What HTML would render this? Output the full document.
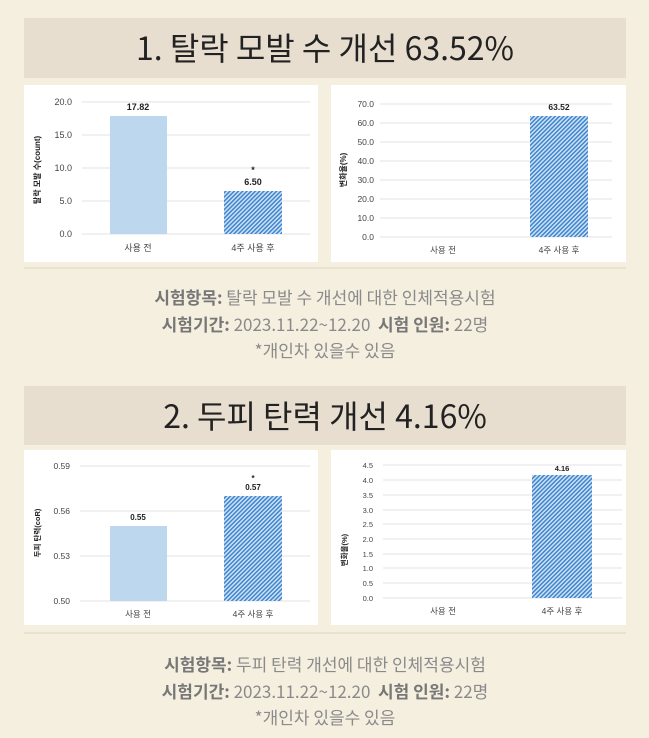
<!DOCTYPE html>
<html><head><meta charset="utf-8"><style>
body{margin:0;background:#f5efe0;}
svg{display:block}
</style></head><body>
<svg width="649" height="738" viewBox="0 0 649 738" xmlns="http://www.w3.org/2000/svg" font-family="'Liberation Sans','Noto Sans CJK KR',sans-serif">
<defs>
<pattern id="h" width="3" height="3" patternUnits="userSpaceOnUse" patternTransform="rotate(45)">
<rect width="3" height="3" fill="#d8e8f6"/><rect width="1.6" height="3" fill="#3f86cf"/>
</pattern>
</defs>
<rect width="649" height="738" fill="#f5efe0"/>
<rect x="24" y="18" width="602" height="60" fill="#e8ded0"/>
<text x="325" y="60" font-size="32" text-anchor="middle" fill="#222" font-family="'Noto Sans CJK KR',sans-serif">1. 탈락 모발 수 개선 63.52%</text>
<rect x="24" y="85" width="294" height="177" fill="#fff"/>
<g stroke="#e3e3e3" stroke-width="1">
<line x1="82" y1="102" x2="310" y2="102"/><line x1="82" y1="135" x2="310" y2="135"/><line x1="82" y1="168" x2="310" y2="168"/><line x1="82" y1="201" x2="310" y2="201"/><line x1="82" y1="234" x2="310" y2="234"/>
</g>
<g font-size="9" fill="#444" text-anchor="end">
<text x="72" y="105">20.0</text><text x="72" y="138">15.0</text><text x="72" y="171">10.0</text><text x="72" y="204">5.0</text><text x="72" y="237">0.0</text>
</g>
<rect x="110" y="116" width="57" height="118" fill="#bdd7ee"/>
<rect x="224" y="191" width="58" height="43" fill="url(#h)"/>
<g font-size="9" fill="#222" font-weight="bold" text-anchor="middle">
<text x="138" y="110">17.82</text><text x="253" y="185">6.50</text><text x="253" y="173">*</text>
</g>
<g font-size="9" fill="#444" text-anchor="middle">
<text x="138" y="251">사용 전</text><text x="253" y="251">4주 사용 후</text>
</g>
<text transform="translate(40,170) rotate(-90)" font-size="8" font-weight="bold" fill="#222" text-anchor="middle">탈락 모발 수(count)</text>
<rect x="331" y="85" width="295" height="177" fill="#fff"/>
<g stroke="#e3e3e3">
<line x1="380" y1="104" x2="612" y2="104"/><line x1="380" y1="123" x2="612" y2="123"/><line x1="380" y1="142" x2="612" y2="142"/><line x1="380" y1="161" x2="612" y2="161"/><line x1="380" y1="180" x2="612" y2="180"/><line x1="380" y1="199" x2="612" y2="199"/><line x1="380" y1="218" x2="612" y2="218"/><line x1="380" y1="237" x2="612" y2="237"/>
</g>
<g font-size="8.5" fill="#444" text-anchor="end">
<text x="374" y="107">70.0</text><text x="374" y="126">60.0</text><text x="374" y="145">50.0</text><text x="374" y="164">40.0</text><text x="374" y="183">30.0</text><text x="374" y="202">20.0</text><text x="374" y="221">10.0</text><text x="374" y="240">0.0</text>
</g>
<rect x="530" y="116" width="58" height="121" fill="url(#h)"/>
<text x="559" y="110" font-size="8.5" font-weight="bold" fill="#222" text-anchor="middle">63.52</text>
<g font-size="8.5" fill="#444" text-anchor="middle">
<text x="443" y="253">사용 전</text><text x="559" y="253">4주 사용 후</text>
</g>
<text transform="translate(346,170) rotate(-90)" font-size="8" font-weight="bold" fill="#222" text-anchor="middle">변화율(%)</text>
<line x1="24" y1="268" x2="626" y2="268" stroke="#ddd5c5"/>
<g font-size="17" fill="#8a8a8a" text-anchor="middle" font-family="'Noto Sans CJK KR',sans-serif">
<text x="325" y="304"><tspan font-weight="bold" fill="#777">시험항목:</tspan> 탈락 모발 수 개선에 대한 인체적용시험</text>
<text x="325" y="331"><tspan font-weight="bold" fill="#777">시험기간:</tspan> 2023.11.22~12.20&#160;&#160;<tspan font-weight="bold" fill="#777">시험 인원:</tspan> 22명</text>
<text x="325" y="357">*개인차 있을수 있음</text>
</g>
<rect x="24" y="386" width="602" height="59" fill="#e8ded0"/>
<text x="325" y="428" font-size="32" text-anchor="middle" fill="#222" font-family="'Noto Sans CJK KR',sans-serif">2. 두피 탄력 개선 4.16%</text>
<rect x="24" y="450" width="294" height="175" fill="#fff"/>
<g stroke="#e3e3e3">
<line x1="80" y1="466" x2="310" y2="466"/><line x1="80" y1="511" x2="310" y2="511"/><line x1="80" y1="556" x2="310" y2="556"/><line x1="80" y1="601" x2="310" y2="601"/>
</g>
<g font-size="8.5" fill="#444" text-anchor="end">
<text x="70" y="469">0.59</text><text x="70" y="514">0.56</text><text x="70" y="559">0.53</text><text x="70" y="604">0.50</text>
</g>
<rect x="110" y="526" width="57" height="75" fill="#bdd7ee"/>
<rect x="224" y="496" width="58" height="105" fill="url(#h)"/>
<g font-size="8" fill="#222" font-weight="bold" text-anchor="middle">
<text x="138" y="520">0.55</text><text x="253" y="490">0.57</text><text x="253" y="481">*</text>
</g>
<g font-size="8.5" fill="#444" text-anchor="middle">
<text x="138" y="617">사용 전</text><text x="253" y="617">4주 사용 후</text>
</g>
<text transform="translate(40,533) rotate(-90)" font-size="7.5" font-weight="bold" fill="#222" text-anchor="middle">두피 탄력(coR)</text>
<rect x="331" y="450" width="295" height="175" fill="#fff"/>
<g stroke="#e3e3e3">
<line x1="383" y1="465" x2="622" y2="465"/><line x1="383" y1="480" x2="622" y2="480"/><line x1="383" y1="495" x2="622" y2="495"/><line x1="383" y1="510" x2="622" y2="510"/><line x1="383" y1="524" x2="622" y2="524"/><line x1="383" y1="539" x2="622" y2="539"/><line x1="383" y1="554" x2="622" y2="554"/><line x1="383" y1="568" x2="622" y2="568"/><line x1="383" y1="583" x2="622" y2="583"/><line x1="383" y1="598" x2="622" y2="598"/>
</g>
<g font-size="7.5" fill="#444" text-anchor="end">
<text x="373" y="468">4.5</text><text x="373" y="483">4.0</text><text x="373" y="498">3.5</text><text x="373" y="513">3.0</text><text x="373" y="527">2.5</text><text x="373" y="542">2.0</text><text x="373" y="557">1.5</text><text x="373" y="571">1.0</text><text x="373" y="586">0.5</text><text x="373" y="601">0.0</text>
</g>
<rect x="532" y="475" width="60" height="123" fill="url(#h)"/>
<text x="562" y="471" font-size="7.5" font-weight="bold" fill="#222" text-anchor="middle">4.16</text>
<g font-size="8.5" fill="#444" text-anchor="middle">
<text x="443" y="614">사용 전</text><text x="562" y="614">4주 사용 후</text>
</g>
<text transform="translate(347,550) rotate(-90)" font-size="7.5" font-weight="bold" fill="#222" text-anchor="middle">변화율(%)</text>
<line x1="24" y1="633" x2="626" y2="633" stroke="#ddd5c5"/>
<g font-size="17" fill="#8a8a8a" text-anchor="middle" font-family="'Noto Sans CJK KR',sans-serif">
<text x="325" y="671"><tspan font-weight="bold" fill="#777">시험항목:</tspan> 두피 탄력 개선에 대한 인체적용시험</text>
<text x="325" y="698"><tspan font-weight="bold" fill="#777">시험기간:</tspan> 2023.11.22~12.20&#160;&#160;<tspan font-weight="bold" fill="#777">시험 인원:</tspan> 22명</text>
<text x="325" y="724">*개인차 있을수 있음</text>
</g>
</svg>
</body></html>
